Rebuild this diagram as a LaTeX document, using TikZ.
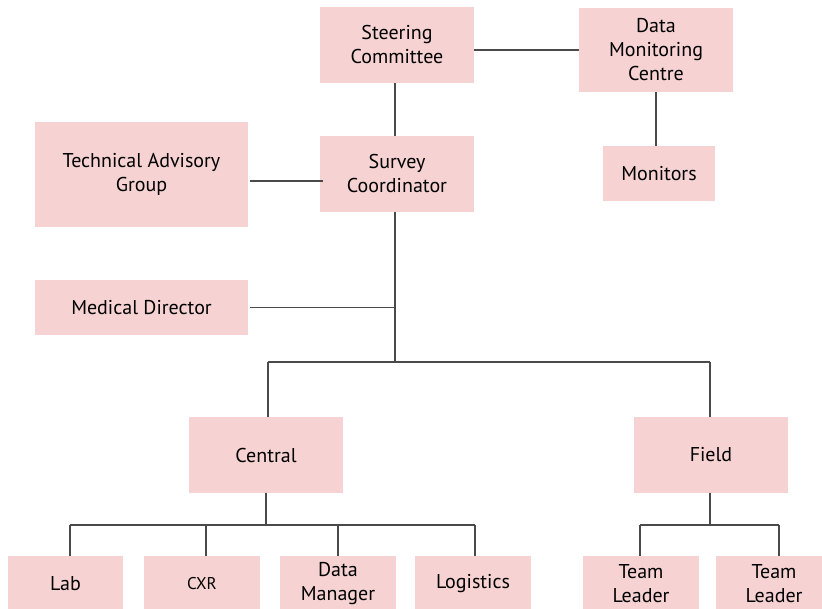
\documentclass[tikz,border=0pt]{standalone}
\usepackage{fontspec}
\setmainfont{PT Sans}
\definecolor{boxfill}{HTML}{F6D2D2}
\definecolor{linec}{HTML}{4A4A4A}
\tikzset{
  box/.style={fill=boxfill, draw=none, align=center, inner sep=0pt,
    font=\fontsize{20}{24}\selectfont, text=black},
  conn/.style={draw=linec, line width=1.3pt}
}
\begin{document}
\begin{tikzpicture}[x=1pt,y=-1pt]
\useasboundingbox (0,0) rectangle (822,609);
\node[box, minimum width=154pt, minimum height=76pt] (steer) at (397,45) {Steering\\Committee};
\node[box, minimum width=154pt, minimum height=84pt] (dmc) at (656,50) {Data\\Monitoring\\Centre};
\node[box, minimum width=112pt, minimum height=55pt] (mon) at (659,173.5) {Monitors};
\node[box, minimum width=154pt, minimum height=76pt] (survey) at (397,174) {Survey\\Coordinator};
\node[box, minimum width=213pt, minimum height=105pt] (tag) at (141.5,174.5) {Technical Advisory\\Group};
\node[box, minimum width=213pt, minimum height=55pt] (md) at (141.5,307.5) {Medical Director};
\node[box, minimum width=154pt, minimum height=75pt] (central) at (266,455) {Central};
\node[box, minimum width=154pt, minimum height=75pt] (field) at (711,455) {Field};
\node[box, minimum width=115pt, minimum height=56pt] (lab) at (65.5,584) {Lab};
\node[box, minimum width=116pt, minimum height=56pt, font=\fontsize{17}{20}\selectfont] (cxr) at (202,584) {CXR};
\node[box, minimum width=116pt, minimum height=56pt] (dm) at (338,584) {Data\\Manager};
\node[box, minimum width=116pt, minimum height=56pt] (log) at (473,584) {Logistics};
\node[box, minimum width=116pt, minimum height=56pt] (tl1) at (641,584) {Team\\Leader};
\node[box, minimum width=116pt, minimum height=56pt] (tl2) at (774,584) {Team\\Leader};
% junction coordinates
\coordinate (j1) at (395,362);
\coordinate (jc) at (268,362);
\coordinate (jf) at (710,362);
\coordinate (j2) at (266,525);
\coordinate (j3) at (710,525);
\coordinate (dlab) at (70,525);
\coordinate (dcxr) at (206,525);
\coordinate (ddm) at (338,525);
\coordinate (dlog) at (475,525);
\coordinate (dtl1) at (640,525);
\coordinate (dtl2) at (779,525);
% connectors
\draw[conn] (steer.east |- dmc.west) -- (dmc.west);
\draw[conn] ([xshift=-2pt]steer.south) -- ([xshift=-2pt]survey.north);
\draw[conn] (dmc.south) -- (dmc.south |- mon.north);
\draw[conn] ([xshift=2pt,yshift=-6.5pt]tag.east) -- ([xshift=3pt,yshift=-7pt]survey.west);
\draw[conn] ([xshift=-2pt]survey.south) -- (j1);
\draw[conn] ([xshift=2pt]md.east) -- (md.east -| j1);
\draw[conn] (jc) -- (jf);
\draw[conn] (jc) -- (jc |- central.north);
\draw[conn] (jf) -- (jf |- field.north);
\draw[conn] (j2 |- central.south) -- (j2);
\draw[conn] (dlab) -- (dlog);
\draw[conn] (dlab) -- (dlab |- lab.north);
\draw[conn] (dcxr) -- (dcxr |- cxr.north);
\draw[conn] (ddm) -- (ddm |- dm.north);
\draw[conn] (dlog) -- (dlog |- log.north);
\draw[conn] (j3 |- field.south) -- (j3);
\draw[conn] (dtl1) -- (dtl2);
\draw[conn] (dtl1) -- (dtl1 |- tl1.north);
\draw[conn] (dtl2) -- (dtl2 |- tl2.north);
\end{tikzpicture}
\end{document}
